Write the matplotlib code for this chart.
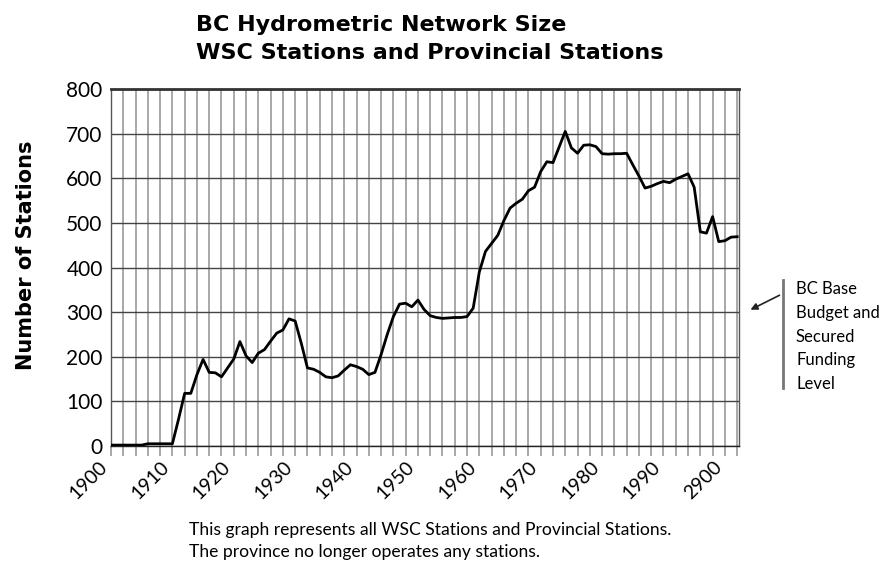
import matplotlib
matplotlib.use("Agg")
import matplotlib.pyplot as plt
from matplotlib.ticker import MultipleLocator

# station counts per year
years = list(range(1900, 2003))
stations = [2, 2, 2, 2, 2, 2, 5, 5, 5, 5,
            5, 60, 118, 118, 160, 194, 165, 164, 155, 175,
            195, 234, 202, 187, 208, 216, 235, 253, 260, 285,
            280, 230, 175, 172, 165, 155, 153, 157, 170, 182,
            178, 172, 160, 165, 205, 250, 290, 318, 320, 312,
            327, 306, 292, 288, 286, 287, 288, 288, 290, 309,
            390, 436, 454, 472, 505, 533, 544, 553, 572, 580,
            615, 637, 635, 670, 705, 668, 656, 674, 675, 671,
            655, 654, 655, 655, 656, 630, 605, 578, 582, 588,
            593, 590, 598, 604, 610, 580, 480, 477, 514, 458,
            460, 468, 469]

decades = list(range(1900, 2001, 10))
decade_labels = ['1900', '1910', '1920', '1930', '1940', '1950',
                 '1960', '1970', '1980', '1990', '2900']
y_ticks = list(range(0, 801, 100))

W, H = 890, 563


def px(x, y):
    # pixel position -> figure fraction
    return x / W, 1 - y / H


plt.rcParams['font.family'] = ['Lato', 'DejaVu Sans']

fig = plt.figure(figsize=(W / 100, H / 100), dpi=100)
ax = fig.add_axes([111 / W, 1 - 446 / H, (739 - 111) / W, (446 - 89) / H])

ax.plot(years, stations, color='black', lw=2, zorder=3)

ax.set_xlim(1900, 2002.3)
ax.set_ylim(0, 800)
ax.set_yticks(y_ticks)
ax.set_xticks(decades)
ax.set_xticklabels(decade_labels, rotation=45, ha='right')
ax.xaxis.set_minor_locator(MultipleLocator(2))

ax.grid(True, axis='x', which='both', color='#9a9a9a', lw=1.2)
ax.grid(True, axis='y', which='major', color='#444444', lw=1.0)
ax.set_axisbelow(True)

ax.tick_params(axis='x', which='both', length=7, width=1.2, color='#9a9a9a',
               labelsize=14, pad=2)
ax.tick_params(axis='y', length=0, labelsize=15, pad=6)
for s in ax.spines.values():
    s.set_color('#555555')
    s.set_linewidth(1.0)
ax.spines['top'].set_linewidth(2.0)
ax.spines['top'].set_color('#333333')
ax.spines['bottom'].set_color('#222222')

# titles and labels
title_font = dict(family='DejaVu Sans', fontweight='bold', fontsize=16)
fig.text(*px(196, 25), 'BC Hydrometric Network Size', va='center', ha='left',
         **title_font)
fig.text(*px(196, 53), 'WSC Stations and Provincial Stations', va='center',
         ha='left', **title_font)
fig.text(*px(26, 255), 'Number of Stations', rotation=90, va='center',
         ha='center', family='DejaVu Sans', fontweight='bold', fontsize=15)

fig.text(*px(189, 530), 'This graph represents all WSC Stations and Provincial Stations.',
         fontsize=12.6, va='center', ha='left')
fig.text(*px(189, 552), 'The province no longer operates any stations.',
         fontsize=12.6, va='center', ha='left')

# funding level note on the right
fig.add_artist(plt.Line2D([783 / W, 783 / W], [1 - 280 / H, 1 - 388 / H],
                          color='#777777', lw=2))
fig.text(*px(796, 281), 'BC Base\nBudget and\nSecured\nFunding\nLevel',
         fontsize=12, va='top', ha='left', linespacing=1.6)
ax.annotate('', xy=px(748, 311), xycoords='figure fraction',
            xytext=px(782, 294), textcoords='figure fraction',
            arrowprops=dict(arrowstyle='-|>', color='#222222', lw=1.2,
                            mutation_scale=10))

fig.savefig('out.png', dpi=100)
